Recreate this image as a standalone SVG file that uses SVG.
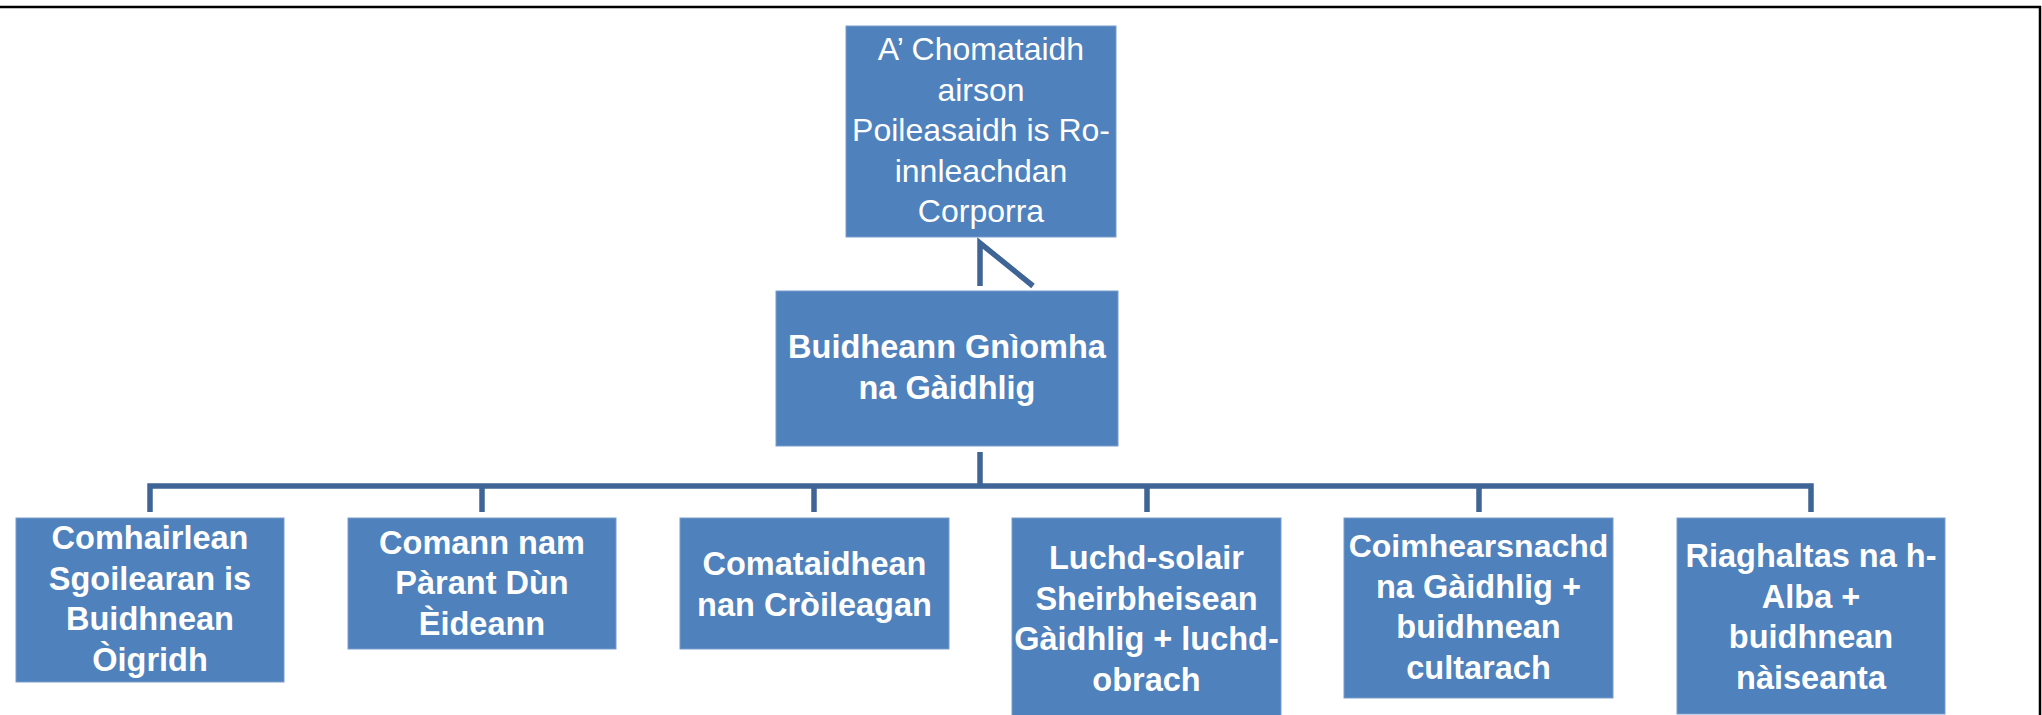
<svg xmlns="http://www.w3.org/2000/svg" width="2042" height="715" viewBox="0 0 2042 715">
<style>
.box{fill:#4F81BD;stroke:#7A9DCB;stroke-width:1}
.t{font-family:"Liberation Sans",Arial,sans-serif;fill:#FFFFFF;text-anchor:middle}
.b{font-weight:bold;font-size:32.5px}
.r{font-size:32px}
.c{fill:none;stroke:#3E6595;stroke-width:5.5;stroke-linecap:butt;stroke-linejoin:miter}
.frame{fill:none;stroke:#000000;stroke-width:2.5}
</style>
<rect x="0" y="0" width="2042" height="715" fill="#FFFFFF"/>
<path class="frame" d="M0,7 H2040 V715"/>
<g id="connectors">
<path class="c" d="M980,286 V243 L1033,286"/>
<path class="c" d="M980,452 V486"/>
<path class="c" d="M150,512 V486 H1811 V512"/>
<path class="c" d="M482,486 V512"/>
<path class="c" d="M814,486 V512"/>
<path class="c" d="M1147,486 V512"/>
<path class="c" d="M1479,486 V512"/>
</g>
<g id="node-top">
<rect class="box" x="846" y="26" width="270" height="211"/>
<text class="t r" x="981" y="60">A’ Chomataidh</text>
<text class="t r" x="981" y="100.5">airson</text>
<text class="t r" x="981" y="141">Poileasaidh is Ro-</text>
<text class="t r" x="981" y="181.5">innleachdan</text>
<text class="t r" x="981" y="222">Corporra</text>
</g>
<g id="node-mid">
<rect class="box" x="776" y="291" width="342" height="155"/>
<text class="t b" x="947" y="358">Buidheann Gnìomha</text>
<text class="t b" x="947" y="399">na Gàidhlig</text>
</g>
<g id="node-1">
<rect class="box" x="16" y="518" width="268" height="164"/>
<text class="t b" x="150" y="549">Comhairlean</text>
<text class="t b" x="150" y="590">Sgoilearan is</text>
<text class="t b" x="150" y="630">Buidhnean</text>
<text class="t b" x="150" y="671">Òigridh</text>
</g>
<g id="node-2">
<rect class="box" x="348" y="518" width="268" height="131"/>
<text class="t b" x="482" y="553.5">Comann nam</text>
<text class="t b" x="482" y="594">Pàrant Dùn</text>
<text class="t b" x="482" y="634.5">Èideann</text>
</g>
<g id="node-3">
<rect class="box" x="680" y="518" width="269" height="131"/>
<text class="t b" x="814.5" y="575">Comataidhean</text>
<text class="t b" x="814.5" y="615.5">nan Cròileagan</text>
</g>
<g id="node-4">
<rect class="box" x="1012" y="518" width="269" height="205"/>
<text class="t b" x="1146.5" y="569">Luchd-solair</text>
<text class="t b" x="1146.5" y="610">Sheirbheisean</text>
<text class="t b" x="1146.5" y="650">Gàidhlig + luchd-</text>
<text class="t b" x="1146.5" y="691">obrach</text>
</g>
<g id="node-5">
<rect class="box" x="1344" y="518" width="269" height="180"/>
<text class="t b" x="1478.5" y="557" style="font-size:32px">Coimhearsnachd</text>
<text class="t b" x="1478.5" y="598">na Gàidhlig +</text>
<text class="t b" x="1478.5" y="638">buidhnean</text>
<text class="t b" x="1478.5" y="679">cultarach</text>
</g>
<g id="node-6">
<rect class="box" x="1677" y="518" width="268" height="196"/>
<text class="t b" x="1811" y="567">Riaghaltas na h-</text>
<text class="t b" x="1811" y="608">Alba +</text>
<text class="t b" x="1811" y="648">buidhnean</text>
<text class="t b" x="1811" y="689">nàiseanta</text>
</g>
</svg>
